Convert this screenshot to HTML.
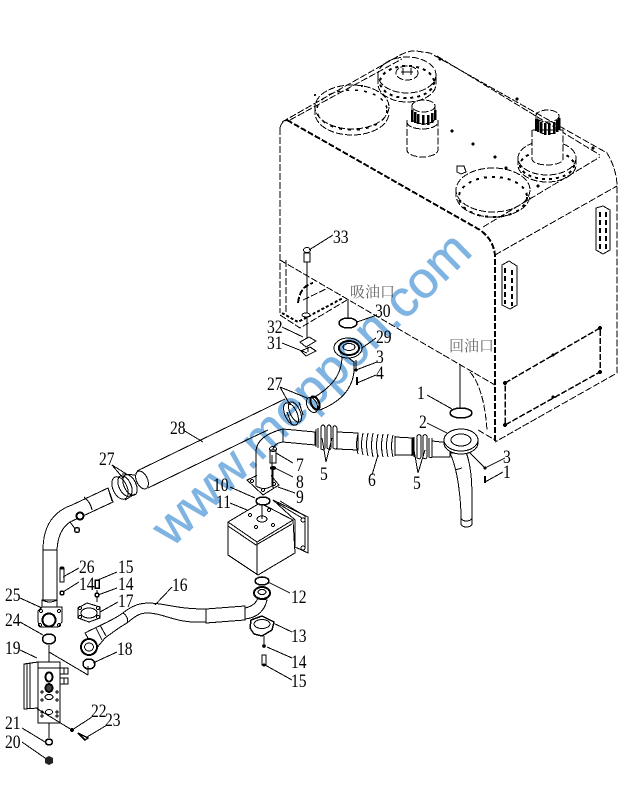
<!DOCTYPE html>
<html><head><meta charset="utf-8"><style>
html,body{margin:0;padding:0;background:#fff}
svg{display:block;shape-rendering:crispEdges}
.l{fill:none;stroke:#000;stroke-width:1}
.f{fill:#fff;stroke:#000;stroke-width:1}
.d{fill:none;stroke:#000;stroke-width:1;stroke-dasharray:7 2}
.t{fill:none;stroke:#000;stroke-width:2;stroke-dasharray:6 2}
.k{fill:none;stroke:#000;stroke-width:3;stroke-dasharray:1.5 3}
text{font-family:"Liberation Serif",serif;font-size:19px;fill:#000;transform-box:fill-box;transform-origin:0 100%;transform:scaleX(.82)}
text.c{font-family:"Liberation Serif","Noto Serif CJK SC",serif;font-size:15px;fill:#666;transform:none}
text.w{font-family:"Liberation Sans",sans-serif;font-size:51px;fill:#7fb4e2;stroke:#7fb4e2;stroke-width:.6;mix-blend-mode:multiply;transform-box:view-box;transform-origin:0 0;transform:translate(172px,548px) rotate(-44.3deg)}
</style></head><body>
<svg width="632" height="795" viewBox="0 0 632 795" xmlns="http://www.w3.org/2000/svg">
<rect width="632" height="795" fill="#fff"/>
<!-- tank -->
<g>
<path class="d" d="M282 122L395 58Q408 50 416 51L430 53L607 153Q616 168 617 184V373L495 442M437 56L600 155M290 120L402 59M495 255L617 186M483 227L600 157"/>
<path class="d" d="M280 260L495 385"/>
<path class="d" d="M280 128V313M286 260V313"/>
<path class="t" d="M287 120L480 230Q494 240 495 256V442"/>
<path class="d" d="M280 128Q281 122 287 120"/>
<path class="d" d="M470 372Q484 388 487 430M478 430L495 440"/>
<!-- top flange -->
<path class="d" d="M378 77V84A29 18 0 0 0 436 84V75"/>
<ellipse class="d" cx="407" cy="75" rx="29" ry="18"/>
<ellipse class="k" cx="407" cy="82" rx="27" ry="16" style="stroke-width:2;stroke-dasharray:3 4"/>
<ellipse class="d" cx="407" cy="73" rx="11" ry="7"/>
<path class="l" d="M401 72H413M403 68V75M411 68V75"/>
<!-- left disk -->
<path class="d" d="M315 108V113A37 22 0 0 0 389 113"/>
<ellipse class="d" cx="352" cy="107" rx="37" ry="22"/>
<ellipse class="k" cx="352" cy="110" rx="35" ry="20" style="stroke-width:1.500;stroke-dasharray:3 6"/>
<!-- cylinder 1 -->
<path class="d" d="M407 120V150A15.5 7 0 0 0 438 150V120"/>
<path class="d" d="M407 122A15.5 7 0 0 0 438 122"/>
<path class="d" d="M412 106V118A11.5 6 0 0 0 435 118V106"/>
<ellipse class="d" cx="423.500" cy="106" rx="11.500" ry="6"/>
<path d="M412 110V122M415 112V123M418 114V124M423 115V125M428 115V125M432 113V123M435 110V120" stroke="#000" stroke-width="2.500" fill="none"/>
<!-- right disk and cylinder -->
<path class="d" d="M518 158V165A29 17 0 0 0 576 165V158"/>
<ellipse class="d" cx="547" cy="158" rx="29" ry="17"/>
<ellipse class="k" cx="547" cy="165" rx="27" ry="14" style="stroke-width:2;stroke-dasharray:3 4"/>
<path class="f" d="M532 130V159A15.500 6 0 0 0 563 159V130Z" style="stroke-dasharray:7 2"/>
<path class="d" d="M536 116V128A11.500 6 0 0 0 559 128V116"/>
<ellipse class="d" cx="547.500" cy="116" rx="11.500" ry="6"/>
<path d="M536 119V131M538 120V132M541 122V133M545 123V135M549 123V135M554 122V134M557 120V132M559 118V130" stroke="#000" stroke-width="2.500" fill="none"/>
<!-- lower disk -->
<path class="d" d="M456 190V195A37 22 0 0 0 530 195"/>
<ellipse class="d" cx="493" cy="190" rx="37" ry="22"/>
<ellipse class="k" cx="493" cy="197" rx="34" ry="20" style="stroke-width:2;stroke-dasharray:3 5"/>
<path class="l" d="M457 172V166H464L466 172L461 174Z"/>
<!-- dots -->
<g fill="#000">
<circle cx="452" cy="131" r="1.500"/><circle cx="473" cy="144" r="1.500"/><circle cx="495" cy="157" r="1.500"/><circle cx="538" cy="186" r="1.500"/><circle cx="517" cy="99" r="1.500"/><circle cx="593" cy="148" r="1.500"/><circle cx="440" cy="59" r="1.500"/><circle cx="362" cy="86" r="1"/><circle cx="315" cy="95" r="1"/><circle cx="506" cy="168" r="1.500"/>
</g>
<!-- side handles -->
<path class="f" d="M596 208L603 206L610 210V250L603 254L596 250Z"/>
<path class="d" d="M600 212V250M606 212V250" style="stroke-width:2;stroke-dasharray:5 3"/>
<path class="f" d="M502 265L509 261L517 266V305L510 309L502 305Z"/>
<path class="d" d="M505 268V304M512 270V306" style="stroke-width:2;stroke-dasharray:5 3"/>
<!-- panel -->
<path class="t" d="M505 383L600 328V372L505 425Z" style="stroke-width:1.500"/>
<circle cx="505" cy="383" r="2"/><circle cx="600" cy="328" r="2"/><circle cx="600" cy="372" r="2"/><circle cx="505" cy="425" r="2"/><circle cx="553" cy="355" r="1.500"/><circle cx="553" cy="397" r="1.500"/>
</g>
<!-- bracket 32 31 -->
<path class="d" d="M280 315L300 328L347 300"/>
<path class="d" d="M282 313L298 322L343 298" style="stroke-width:2;stroke-dasharray:3 2"/>
<path class="t" d="M298 303Q300 286 313 283"/>
<path class="d" d="M303 300L328 288"/>
<path class="l" d="M307 253V340"/>
<path class="f" d="M304 253H310V262H304Z"/>
<ellipse class="f" cx="307" cy="250" rx="3.500" ry="2.500"/>
<ellipse cx="306" cy="315" rx="4" ry="2" fill="#fff" stroke="#000"/>
<path class="f" d="M300 342L309 337L316 341L306 347Z"/>
<path class="f" d="M301 351L310 347L316 351L306 356Z"/>
<path class="l" d="M308 347V352"/>
<!-- rings top -->
<path class="l" d="M348 300V318"/>
<ellipse class="l" cx="348" cy="323" rx="9" ry="5" style="stroke-width:1.500"/>
<path class="l" d="M460 365V408"/>
<ellipse class="l" cx="461" cy="413" rx="11" ry="5" style="stroke-width:1.500"/>
<!-- elbow 29 -->
<path class="f" d="M342 353C343 376 330 388 313 398L320 410C345 400 356 384 354 362Z"/>
<ellipse class="f" cx="348" cy="348" rx="14" ry="10"/>
<ellipse class="l" cx="349" cy="348" rx="10" ry="7" style="stroke-width:2"/>
<ellipse class="l" cx="349" cy="347" rx="6" ry="3.500"/>
<circle cx="356" cy="370" r="1.500"/>
<path class="l" d="M356 370V360"/>
<path d="M357 377V385" stroke="#000" stroke-width="2"/>
<!-- pipe 28 -->
<path class="l" d="M137 471L285 399M148 488L253 437L268 430"/>
<ellipse class="f" cx="142" cy="480" rx="5.500" ry="9.500" transform="rotate(-25 142 480)"/>
<!-- clamps 27 right -->
<ellipse class="f" cx="291" cy="414" rx="6" ry="12" transform="rotate(-25 291 414)"/>
<ellipse class="l" cx="295" cy="412" rx="5" ry="11" transform="rotate(-25 295 412)"/>
<path class="l" d="M287 412L292 425M299 402L303 415"/>
<ellipse class="f" cx="312" cy="405" rx="5" ry="8" transform="rotate(-25 312 405)"/>
<ellipse class="l" cx="315" cy="403" rx="4" ry="7" transform="rotate(-25 315 403)" style="stroke-width:2"/>
<!-- left pipe -->
<path class="f" d="M108 488L72 505Q43 515 43 550V600H57V550Q58 530 70 522L113 502Z"/>
<path class="l" d="M43 550H57M84 497Q91 503 92 510M108 488L112 501"/>
<ellipse class="f" cx="80" cy="516" rx="3.500" ry="3.500" style="stroke-width:2"/>
<path class="l" d="M70 522L76 530"/>
<ellipse class="f" cx="77" cy="530" rx="2.500" ry="2.500" style="stroke-width:1.500"/>
<!-- clamp 27 left -->
<ellipse class="f" cx="120" cy="488" rx="7" ry="12" transform="rotate(-25 120 488)"/>
<ellipse class="l" cx="125" cy="486" rx="6" ry="11" transform="rotate(-25 125 486)"/>
<ellipse class="l" cx="130" cy="485" rx="6" ry="11" transform="rotate(-25 130 485)"/>
<path class="l" d="M122 474L135 475M135 494L125 500"/>
<!-- hose 5-6 -->
<path class="f" d="M256 480V452Q256 436 283 429L315 432V445L283 442Q272 443 272 455V488Z"/>
<path class="l" d="M283 429V442"/>
<path class="f" d="M337 432L358 433V450L337 449Z"/>
<path class="f" d="M395 437L413 438V455L395 455Z"/>
<path class="f" d="M432 441L450 443V457L432 457Z"/>
<path class="l" d="M316 429V447M318 428V448M321 427V449Q324 451 325 448V427Q323 423 321 427M327 427V448Q330 451 331 448V427Q329 423 327 427M333 427V448Q336 450 337 448V428Q335 424 333 427"/>
<path class="l" d="M412 438V456M414 437V457M417 436V458Q420 460 421 457V436Q419 433 417 436M423 436V458Q426 460 427 457V436Q425 433 423 436M429 438V457Q431 458 432 457V438"/>
<path class="l" d="M358 434Q355 445 358 454M363 433Q360 445 363 455M368 433Q365 445 368 456M373 433Q370 446 373 457M378 434Q375 446 378 457M383 434Q380 446 383 457M388 434Q385 446 388 457M393 435Q390 446 393 457M395 436V456"/>
<!-- flange 2 and down pipe -->
<path class="f" d="M450 453C458 470 461 500 461 518A5.500 3 0 0 0 472 518C472 495 473 470 466 452Z"/>
<path class="l" d="M455 470L462 468M461 518V524A5.500 3 0 0 0 472 524V518"/>
<ellipse class="f" cx="461" cy="443" rx="17" ry="11"/>
<ellipse class="f" cx="461" cy="440" rx="17" ry="11"/>
<ellipse class="l" cx="461" cy="440" rx="10" ry="6"/>
<!-- small bolts -->
<path class="f" d="M270 450H276V463H270Z"/>
<ellipse class="l" cx="273" cy="449" rx="3.500" ry="2.500"/>
<ellipse cx="273" cy="468" rx="3" ry="2"/>
<path class="f" d="M247 480L267 471L279 485L263 495Z"/>
<path class="l" d="M256 478V486Q264 491 272 486V478"/>
<path d="M257 470H271V485L264 488L257 485Z" fill="#fff"/>
<path class="l" d="M256 455V486M272 455V486M273 470V488"/>
<circle class="l" cx="252" cy="481" r="1.500"/><circle class="l" cx="263" cy="490" r="1.500"/><circle class="l" cx="274" cy="484" r="1.500"/>
<!-- box 11 -->
<path class="f" d="M273 500L308 517V553L295 547V520Z"/>
<path class="l" d="M280 501L305 516V548M277 503L302 518"/>
<circle class="l" cx="303" cy="520" r="2"/><circle class="l" cx="303" cy="548" r="2"/>
<path class="f" d="M228 522L260 503L293 520L295 553L258 575L228 555Z"/>
<path class="l" d="M228 522L257 542L293 520M257 542V575M228 526L256 545L292 524"/>
<ellipse class="l" cx="262" cy="519" rx="5" ry="3"/>
<circle class="l" cx="250" cy="515" r="1.500"/><circle class="l" cx="269" cy="510" r="1.500"/><circle class="l" cx="273" cy="525" r="1.500"/><circle class="l" cx="256" cy="527" r="1.500"/>
<ellipse class="f" cx="263" cy="501" rx="7" ry="4" style="stroke-width:1.500"/>
<path class="l" d="M262 504V519M262 576V581"/>
<ellipse class="f" cx="262" cy="581" rx="7" ry="4" style="stroke-width:1.500"/>
<!-- hose 16 -->
<path class="f" d="M85 633C100 625 110 622 123 613C130 607 138 603 148 603C165 603 175 609 206 609V622C175 624 165 613 147 613C138 613 132 619 127 623C118 628 112 633 105 638L95 650Z"/>
<path class="l" d="M123 613Q129 617 127 623M100 625L106 636M96 628L102 640"/>
<path class="f" d="M206 609L245 606V620L206 623Z"/>
<path class="f" d="M245 608Q255 606 258 598L267 600Q263 617 245 619Z"/>
<ellipse class="f" cx="262" cy="593" rx="8" ry="6" style="stroke-width:2"/>
<ellipse class="l" cx="262" cy="592" rx="4" ry="2.500"/>
<ellipse class="f" cx="89" cy="647" rx="8" ry="8" style="stroke-width:2"/>
<ellipse class="l" cx="89" cy="647" rx="4.500" ry="4"/>
<!-- clamp 13 -->
<path class="f" d="M251 620L262 616L274 622L272 630L262 636L254 634L250 628Z" style="stroke-width:1.500"/>
<ellipse class="l" cx="262" cy="624" rx="8" ry="4.500"/>
<path class="l" d="M264 636V644"/>
<circle cx="264" cy="646" r="1.800"/>
<path class="l" d="M262 655H266V665H262Z"/>
<circle cx="264" cy="665" r="1.500"/>
<!-- clamp 17 -->
<path class="f" d="M78 608L87 603L100 607L100 618L89 622L78 618Z"/>
<ellipse class="l" cx="89" cy="613" rx="8" ry="5"/>
<circle class="l" cx="80" cy="608" r="1.500"/><circle class="l" cx="98" cy="608" r="1.500"/><circle class="l" cx="80" cy="617" r="1.500"/><circle class="l" cx="98" cy="617" r="1.500"/>
<path class="l" d="M97 590V602"/>
<path class="f" d="M95 580H99V588H95Z" style="stroke-width:1.500"/>
<circle class="f" cx="97" cy="595" r="2" style="stroke-width:1.500"/>
<!-- bolt 26 -->
<path class="f" d="M60 569H64V582H60Z"/>
<ellipse cx="62" cy="568" rx="2.500" ry="1.500"/>
<circle class="f" cx="62" cy="593" r="2" style="stroke-width:1.500"/>
<!-- flange 25 -->
<path class="f" d="M38 611L42 607L62 607V622L58 627H40L38 622Z"/>
<path class="l" d="M42 600Q50 604 57 600V607H42Z"/>
<circle cx="49" cy="620" r="6.500" fill="#fff" stroke="#000" stroke-width="2"/>
<circle class="l" cx="40" cy="625" r="1.500"/><circle class="l" cx="59" cy="625" r="1.500"/><circle class="l" cx="41" cy="611" r="1.500"/><circle class="l" cx="59" cy="611" r="1.500"/>
<ellipse class="f" cx="49" cy="639" rx="6.500" ry="5" style="stroke-width:1.500"/>
<ellipse class="f" cx="89" cy="664" rx="6" ry="5" style="stroke-width:1.500"/>
<path class="l" d="M49 645V662M49 652L88 675M88 666V675"/>
<!-- block 19 -->
<path class="f" d="M24 664L38 662V708L24 709Z"/>
<path class="l" d="M27 663V709M30 663V709"/>
<path class="f" d="M38 662H60V723H38Z"/>
<path class="l" d="M38 668H60"/>
<path class="f" d="M60 668H68V674H60ZM60 678H68V684H60Z"/>
<path class="l" d="M64 668V674M64 678V684"/>
<ellipse cx="49" cy="677" rx="3.500" ry="4.500" fill="#fff" stroke="#000" stroke-width="2"/>
<ellipse cx="49" cy="688" rx="3.500" ry="4" fill="#444" stroke="#000" stroke-width="2"/>
<ellipse class="l" cx="49" cy="697" rx="4" ry="2.500"/>
<ellipse class="l" cx="49" cy="712" rx="3.500" ry="2.500"/>
<circle class="l" cx="42" cy="692" r="1"/><circle class="l" cx="57" cy="692" r="1"/><circle class="l" cx="42" cy="700" r="1"/><circle class="l" cx="57" cy="700" r="1"/><circle class="l" cx="42" cy="712" r="1"/><circle class="l" cx="57" cy="712" r="1"/><circle class="l" cx="42" cy="716" r="1"/><circle class="l" cx="57" cy="716" r="1"/>
<path class="l" d="M49 723V738M36 708L72 730"/>
<ellipse class="f" cx="49" cy="742" rx="3.500" ry="3" style="stroke-width:1.500"/>
<path d="M45 758L49 756L53 758V763L49 765L45 763Z" fill="#222"/>
<circle cx="72" cy="730" r="2"/>
<path class="l" d="M78 733L88 738L85 740Z" style="stroke-width:1.500"/>
<!-- small bolts right -->
<circle cx="485" cy="468" r="1.500"/>
<path d="M485 476V483" stroke="#000" stroke-width="2"/>
<!-- leaders -->
<path class="l" d="M333 235L309 250M377 315L357 322M376 338L362 348M377 362L356 370M376 375L357 383M282 327L303 337M282 343L307 353M427 395L452 409M427 423L447 433M280 387L290 405M280 387L307 398M183 430L203 442M112 465L123 478M112 465L128 475M326 462L322 438M326 462L332 438M372 475L378 455M418 473L414 450M418 473L425 450M505 458L485 468L470 453M503 472L485 482M293 463L276 453M293 477L275 468M295 493L278 487M230 487L255 498M230 503L247 510M290 593L268 582M292 632L273 623M292 658L267 647M292 680L265 665M172 587L155 605M117 572L98 580M117 588L98 595M118 602L100 612M79 568L63 577M79 582L63 592M20 598L42 608M20 622L43 635M20 650L37 658M117 652L93 663M22 728L45 742M22 742L45 758M92 717L72 730M107 725L87 737"/>
<!-- labels -->
<g>
<text x="333" y="243">33</text><text x="375" y="317">30</text><text x="376" y="343">29</text><text x="376" y="363">3</text><text x="376" y="379">4</text>
<text x="267" y="333">32</text><text x="267" y="349">31</text><text x="267" y="390">27</text><text x="170" y="434">28</text>
<text x="417" y="399">1</text><text x="419" y="428">2</text><text x="503" y="463">3</text><text x="503" y="478">1</text>
<text x="320" y="480">5</text><text x="368" y="486">6</text><text x="413" y="489">5</text>
<text x="99" y="465">27</text><text x="296" y="471">7</text><text x="296" y="488">8</text><text x="296" y="503">9</text>
<text x="213" y="491">10</text><text x="216" y="508">11</text>
<text x="291" y="603">12</text><text x="291" y="642">13</text><text x="291" y="668">14</text><text x="291" y="687">15</text>
<text x="172" y="591">16</text><text x="118" y="607">17</text><text x="118" y="573">15</text><text x="118" y="590">14</text>
<text x="79" y="573">26</text><text x="79" y="590">14</text><text x="5" y="601">25</text><text x="5" y="626">24</text>
<text x="117" y="655">18</text><text x="5" y="654">19</text><text x="5" y="729">21</text><text x="5" y="748">20</text>
<text x="91" y="717">22</text><text x="105" y="726">23</text>
<text class="c" x="350" y="297">吸油口</text><text class="c" x="449" y="351">回油口</text>
</g>
<!-- watermark -->
<text class="w" x="0" y="0" textLength="422" lengthAdjust="spacingAndGlyphs">www.meppon.com</text>
</svg>
</body></html>
